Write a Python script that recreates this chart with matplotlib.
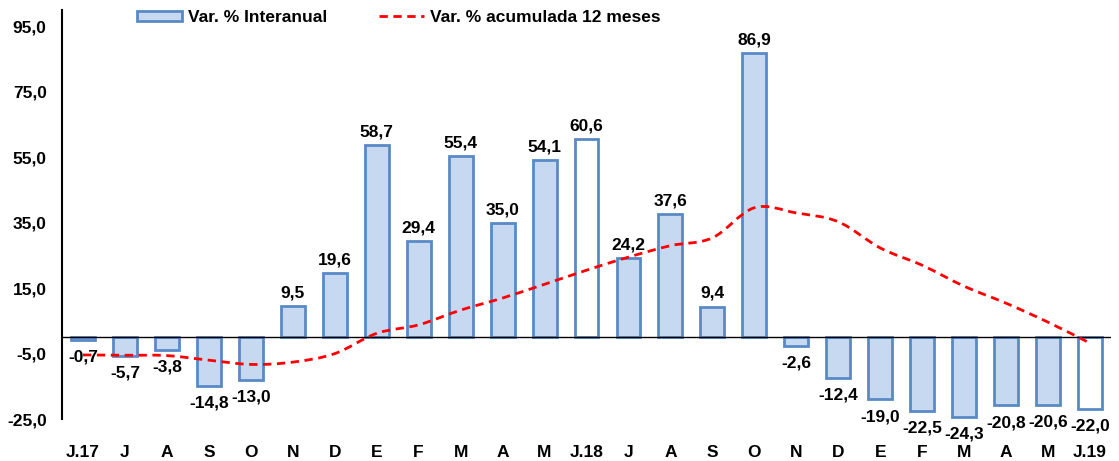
import numpy as np
import matplotlib.pyplot as plt
from matplotlib.path import Path
from matplotlib.patches import PathPatch, Patch
from matplotlib.lines import Line2D

plt.rcParams['font.family'] = ['Liberation Sans', 'DejaVu Sans']
plt.rcParams['font.weight'] = 'bold'

meses = ['J.17', 'J', 'A', 'S', 'O', 'N', 'D', 'E', 'F', 'M', 'A', 'M', 'J.18',
         'J', 'A', 'S', 'O', 'N', 'D', 'E', 'F', 'M', 'A', 'M', 'J.19']
interanual = [-0.7, -5.7, -3.8, -14.8, -13.0, 9.5, 19.6, 58.7, 29.4, 55.4, 35.0, 54.1, 60.6,
              24.2, 37.6, 9.4, 86.9, -2.6, -12.4, -19.0, -22.5, -24.3, -20.8, -20.6, -22.0]
acumulada = [-5.4, -5.5, -5.6, -7.0, -8.3, -7.6, -5.0, 1.2, 3.8, 8.3, 12.0, 16.2, 20.5,
             24.5, 28.0, 30.4, 39.6, 38.0, 35.3, 27.3, 22.0, 15.6, 10.4, 4.6, -1.8]

azul = '#C6D9F0'
borde = '#5A8AC6'
rojo = '#FF0000'
fs = 12.5

x = np.arange(len(meses))
fill = [azul] * len(meses)
fill[12] = 'white'
fill[24] = 'white'

fig = plt.figure(figsize=(11.19, 4.61), dpi=100)
ax = fig.add_axes([0.0554, 0.091, 0.9375, 0.887])

ax.bar(x, interanual, width=0.57, color=fill, edgecolor=borde, linewidth=2, zorder=2)

# smoothed line like Excel (bezier through the points)
pts = np.column_stack([x, acumulada]).astype(float)
verts = [pts[0]]
codes = [Path.MOVETO]
n = len(pts)
for i in range(n - 1):
    p0 = pts[max(i - 1, 0)]
    p1 = pts[i]
    p2 = pts[i + 1]
    p3 = pts[min(i + 2, n - 1)]
    c1 = p1 + (p2 - p0) / 6
    c2 = p2 - (p3 - p1) / 6
    verts += [c1, c2, p2]
    codes += [Path.CURVE4] * 3
ax.add_patch(PathPatch(Path(verts, codes), fill=False, edgecolor=rojo,
                       linestyle=(0, (3, 2)), linewidth=2, zorder=3))
ax.axhline(0, color='black', linewidth=1, zorder=2.5)

for xi, v in zip(x, interanual):
    txt = f'{v:.1f}'.replace('.', ',')
    if v >= 0:
        ax.annotate(txt, (xi, v), xytext=(0, 4), textcoords='offset points',
                    ha='center', va='bottom', fontsize=fs, fontweight='bold')
    else:
        ax.annotate(txt, (xi, v), xytext=(0, -7), textcoords='offset points',
                    ha='center', va='top', fontsize=fs, fontweight='bold')

ax.set_xlim(-0.5, 24.5)
ax.set_ylim(-25, 100)
yt = [-25, -5, 15, 35, 55, 75, 95]
ax.set_yticks(yt)
ax.set_yticklabels([f'{t:.1f}'.replace('.', ',') for t in yt])
ax.set_xticks(x)
ax.set_xticklabels(meses)
ax.tick_params(axis='y', length=0, pad=11, labelsize=fs)
ax.tick_params(axis='x', length=0, pad=19, labelsize=fs)
for s in ['top', 'right', 'bottom']:
    ax.spines[s].set_visible(False)
ax.spines['left'].set_linewidth(1.5)

handles = [Patch(facecolor=azul, edgecolor=borde, linewidth=2),
           Line2D([0], [0], color=rojo, linestyle=(0, (3, 2)), linewidth=2)]
fig.legend(handles, ['Var. % Interanual', 'Var. % acumulada 12 meses'],
           loc='center left', bbox_to_anchor=(0.122, 0.962), ncol=2, frameon=False,
           fontsize=fs, handlelength=2.6, handleheight=0.55, columnspacing=3.0,
           handletextpad=0.35, borderaxespad=0, borderpad=0)

plt.savefig('out.png', dpi=100)
